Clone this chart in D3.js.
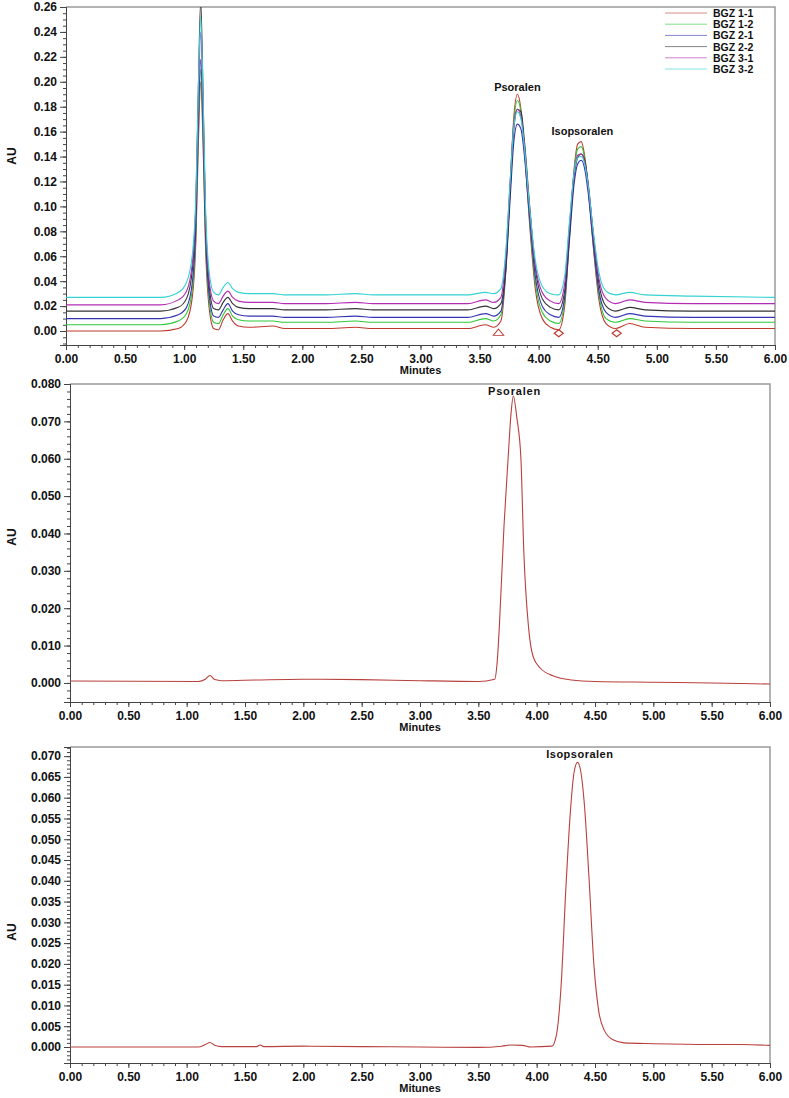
<!DOCTYPE html>
<html>
<head>
<meta charset="utf-8">
<script src="https://cdn.jsdelivr.net/npm/d3@7"></script>
<style>
body { margin: 0; background: #fff; }
text { font-family: "Liberation Sans", Arial, sans-serif; font-weight: bold; fill: #111; }
</style>
</head>
<body>
<script>
// ---- data ----
var xTicks = [0, 0.5, 1, 1.5, 2, 2.5, 3, 3.5, 4, 4.5, 5, 5.5, 6];
var yTicksTop = [0, 0.02, 0.04, 0.06, 0.08, 0.10, 0.12, 0.14, 0.16, 0.18, 0.20, 0.22, 0.24, 0.26];
var yTicksMid = [0, 0.01, 0.02, 0.03, 0.04, 0.05, 0.06, 0.07, 0.08];
var yTicksLow = [0, 0.005, 0.01, 0.015, 0.02, 0.025, 0.03, 0.035, 0.04, 0.045, 0.05, 0.055, 0.06, 0.065, 0.07];

var seriesNames = ['BGZ 1-1', 'BGZ 1-2', 'BGZ 2-1', 'BGZ 2-2', 'BGZ 3-1', 'BGZ 3-2'];
var seriesColors = ['#c0392f', '#2fc83a', '#3434b4', '#333333', '#b42cb4', '#35d2d2'];

// retention times (min) for the overlaid traces
var topTimes = [0, 0.8, 0.95, 1.02, 1.07, 1.10, 1.12, 1.14, 1.16, 1.18, 1.21, 1.25, 1.29, 1.33, 1.37, 1.41, 1.46, 1.55, 1.75, 1.85,
  2.2, 2.45, 2.6, 3.0, 3.4, 3.55, 3.62, 3.68, 3.72, 3.76, 3.79, 3.82, 3.85, 3.88, 3.92, 3.97, 4.03, 4.1, 4.17, 4.22,
  4.26, 4.30, 4.33, 4.36, 4.39, 4.42, 4.46, 4.51, 4.57, 4.65, 4.77, 4.9, 5.3, 6.0];

var bgz11 = [0, 0, 0.002, 0.008, 0.028, 0.075, 0.150, 0.200, 0.150, 0.070, 0.020, 0.002, 0.001, 0.009, 0.014, 0.008, 0.004, 0.003, 0.004, 0.002,
  0.002, 0.003, 0.002, 0.002, 0.002, 0.005, 0.003, 0.008, 0.045, 0.120, 0.172, 0.190, 0.178, 0.145, 0.090, 0.035, 0.010, 0.003, 0.001, 0.020,
  0.075, 0.130, 0.150, 0.152, 0.140, 0.115, 0.070, 0.025, 0.006, 0.002, 0.006, 0.003, 0.002, 0.002];
var bgz12 = [0.005, 0.005, 0.008, 0.014, 0.034, 0.082, 0.160, 0.210, 0.158, 0.076, 0.026, 0.007, 0.006, 0.013, 0.018, 0.012, 0.009, 0.008, 0.008, 0.007,
  0.007, 0.008, 0.007, 0.007, 0.007, 0.010, 0.008, 0.013, 0.048, 0.118, 0.168, 0.185, 0.176, 0.146, 0.094, 0.040, 0.015, 0.008, 0.006, 0.024,
  0.076, 0.128, 0.146, 0.148, 0.138, 0.114, 0.072, 0.029, 0.010, 0.007, 0.010, 0.008, 0.007, 0.007];
var bgz21 = [0.010, 0.010, 0.013, 0.019, 0.040, 0.088, 0.168, 0.218, 0.165, 0.082, 0.031, 0.012, 0.011, 0.017, 0.022, 0.016, 0.013, 0.012, 0.012, 0.011,
  0.011, 0.012, 0.011, 0.011, 0.011, 0.014, 0.012, 0.016, 0.046, 0.108, 0.152, 0.166, 0.162, 0.140, 0.095, 0.045, 0.020, 0.013, 0.011, 0.027,
  0.072, 0.118, 0.134, 0.137, 0.130, 0.110, 0.072, 0.032, 0.015, 0.011, 0.014, 0.012, 0.011, 0.011];
var bgz22 = [0.016, 0.016, 0.019, 0.026, 0.050, 0.105, 0.195, 0.265, 0.190, 0.095, 0.038, 0.018, 0.017, 0.023, 0.027, 0.022, 0.019, 0.018, 0.018, 0.017,
  0.017, 0.018, 0.017, 0.017, 0.017, 0.020, 0.018, 0.022, 0.050, 0.115, 0.162, 0.178, 0.176, 0.152, 0.105, 0.052, 0.026, 0.019, 0.017, 0.032,
  0.078, 0.124, 0.139, 0.142, 0.137, 0.118, 0.080, 0.038, 0.020, 0.016, 0.019, 0.017, 0.016, 0.016];
var bgz31 = [0.021, 0.021, 0.025, 0.032, 0.055, 0.105, 0.185, 0.240, 0.180, 0.095, 0.042, 0.024, 0.022, 0.028, 0.032, 0.027, 0.024, 0.023, 0.023, 0.022,
  0.022, 0.023, 0.022, 0.022, 0.022, 0.025, 0.023, 0.027, 0.058, 0.122, 0.166, 0.178, 0.172, 0.148, 0.102, 0.054, 0.031, 0.024, 0.022, 0.038,
  0.084, 0.127, 0.141, 0.142, 0.135, 0.116, 0.080, 0.042, 0.026, 0.022, 0.025, 0.023, 0.022, 0.022];
var bgz32 = [0.027, 0.027, 0.031, 0.039, 0.062, 0.112, 0.195, 0.252, 0.190, 0.102, 0.049, 0.031, 0.029, 0.035, 0.039, 0.034, 0.031, 0.030, 0.030, 0.029,
  0.029, 0.030, 0.029, 0.029, 0.029, 0.031, 0.030, 0.034, 0.062, 0.122, 0.164, 0.176, 0.170, 0.147, 0.103, 0.058, 0.036, 0.030, 0.029, 0.044,
  0.087, 0.127, 0.139, 0.140, 0.134, 0.116, 0.082, 0.047, 0.032, 0.029, 0.031, 0.029, 0.028, 0.027];

// integration markers under the BGZ 1-1 trace
var markerTimes = [3.66, 4.17, 4.66];
var markerShapes = ['triangle', 'diamond', 'diamond'];

// psoralen standard
var psoTimes = [0, 1.1, 1.16, 1.2, 1.24, 1.3, 1.6, 2.0, 2.5, 3.0, 3.5, 3.64, 3.66, 3.68, 3.72, 3.755, 3.78, 3.80, 3.83, 3.865,
  3.89, 3.93, 3.97, 4.03, 4.15, 4.3, 4.5, 5.0, 5.5, 6.0];
var psoValues = [0.0005, 0.0004, 0.0010, 0.0020, 0.0009, 0.0006, 0.0008, 0.0010, 0.0009, 0.0006, 0.0004, 0.0010, 0.0050, 0.0150, 0.0420, 0.0600, 0.0720, 0.0768, 0.0710, 0.0600,
  0.0350, 0.0150, 0.0070, 0.0040, 0.0018, 0.0008, 0.0004, 0.0002, 0.0000, -0.0003];

// isopsoralen standard
var isoTimes = [0, 1.1, 1.16, 1.2, 1.24, 1.3, 1.6, 1.63, 1.66, 2.0, 2.5, 3.0, 3.5, 3.7, 3.78, 3.88, 3.95, 4.13, 4.17, 4.21,
  4.25, 4.29, 4.32, 4.35, 4.38, 4.41, 4.45, 4.49, 4.53, 4.58, 4.65, 4.75, 5.0, 5.5, 5.75, 6.0];
var isoValues = [0.0000, 0.0000, 0.0006, 0.0011, 0.0004, 0.0001, 0.0001, 0.0005, 0.0001, 0.0002, 0.0001, 0.0000, -0.0001, 0.0002, 0.0005, 0.0004, 0.0000, 0.0002, 0.0030, 0.0150,
  0.0380, 0.0570, 0.0660, 0.0685, 0.0660, 0.0580, 0.0400, 0.0200, 0.0090, 0.0040, 0.0018, 0.0010, 0.0008, 0.0006, 0.0006, 0.0004];

var topSeries = [bgz11, bgz12, bgz21, bgz22, bgz31, bgz32];

// ---- drawing ----
var W = 789, H = 1098;
var svg = d3.select('body').append('svg')
    .attr('width', W)
    .attr('height', H);

var traceColor = '#b8403d';

function panel(o) {
    var x = d3.scaleLinear().domain([0, 6]).range([o.left, o.right]);
    var y = d3.scaleLinear().domain(o.yDomain).range([o.bottom, o.top]);
    var g = svg.append('g');

    svg.append('clipPath').attr('id', 'clip' + o.id)
        .append('rect')
        .attr('x', o.left).attr('y', o.top)
        .attr('width', o.right - o.left).attr('height', o.bottom - o.top);

    // grey frame on top and right
    g.append('path')
        .attr('d', 'M' + o.left + ',' + o.top + 'H' + o.right + 'V' + o.bottom)
        .attr('fill', 'none').attr('stroke', '#9a9a9a').attr('stroke-width', 1.5);

    var xMinor = d3.range(0, 60.5, 1).map(function(d) { return d / 10; });
    var yMinor = d3.range(Math.ceil(o.yDomain[0] / o.minor), Math.floor(o.yDomain[1] / o.minor) + 1)
        .map(function(d) { return d * o.minor; });

    g.append('g').attr('class', 'ax')
        .attr('transform', 'translate(0,' + o.bottom + ')')
        .call(d3.axisBottom(x).tickValues(xMinor).tickSize(3).tickFormat(''));
    g.append('g').attr('class', 'ax')
        .attr('transform', 'translate(0,' + o.bottom + ')')
        .call(d3.axisBottom(x).tickValues(xTicks).tickSize(5).tickPadding(4).tickFormat(d3.format('.2f')));

    g.append('g').attr('class', 'ax')
        .attr('transform', 'translate(' + o.left + ',0)')
        .call(d3.axisLeft(y).tickValues(yMinor).tickSize(3).tickFormat(''));
    g.append('g').attr('class', 'ax')
        .attr('transform', 'translate(' + o.left + ',0)')
        .call(d3.axisLeft(y).tickValues(o.yTicks).tickSize(6).tickPadding(3).tickFormat(d3.format(o.fmt)));

    g.selectAll('.ax path, .ax line').attr('stroke', '#444');
    g.selectAll('.ax text').attr('font-size', 12).attr('fill', '#111')
        .style('font-family', '"Liberation Sans", Arial, sans-serif').style('font-weight', 'bold');

    g.append('text')
        .attr('x', (o.left + o.right) / 2).attr('y', o.bottom + 29)
        .attr('text-anchor', 'middle').attr('font-size', 11)
        .text(o.xTitle);
    g.append('text')
        .attr('transform', 'translate(16,' + o.auY + ') rotate(-90)')
        .attr('text-anchor', 'middle').attr('font-size', 12)
        .text('AU');

    return { x: x, y: y, g: g.append('g').attr('clip-path', 'url(#clip' + o.id + ')') };
}

// top: overlaid samples
var p1 = panel({ id: 1, left: 66, right: 775, top: 7, bottom: 345, yDomain: [-0.0112, 0.26],
    yTicks: yTicksTop, minor: 0.005, fmt: '.2f', xTitle: 'Minutes', auY: 156 });

var line1 = d3.line()
    .x(function(d, i) { return p1.x(topTimes[i]); })
    .y(function(d) { return p1.y(d); })
    .curve(d3.curveMonotoneX);

p1.g.selectAll('path.trace')
    .data(topSeries)
    .enter().append('path')
    .attr('class', 'trace')
    .attr('d', line1)
    .attr('fill', 'none')
    .attr('stroke', function(d, i) { return seriesColors[i]; })
    .attr('stroke-width', 1.1);

p1.g.selectAll('path.mark')
    .data(markerTimes)
    .enter().append('path')
    .attr('class', 'mark')
    .attr('d', function(d, i) {
        return markerShapes[i] === 'triangle'
            ? d3.symbol().type(d3.symbolTriangle).size(28)()
            : d3.symbol().type(d3.symbolDiamond).size(22)();
    })
    .attr('transform', function(d, i) {
        var s = markerShapes[i] === 'triangle' ? 'scale(1.3,0.9)' : 'scale(1.8,0.8)';
        return 'translate(' + p1.x(d) + ',' + p1.y(-0.0018) + ') ' + s;
    })
    .attr('fill', 'none')
    .attr('stroke', '#c0392f')
    .attr('stroke-width', 0.9);

var legend = svg.append('g').selectAll('g')
    .data(seriesNames)
    .enter().append('g')
    .attr('transform', function(d, i) { return 'translate(665,' + (13 + i * 11.2) + ')'; });
legend.append('line')
    .attr('x1', 0).attr('x2', 42).attr('y1', 0).attr('y2', 0)
    .attr('stroke', function(d, i) { return seriesColors[i]; })
    .attr('stroke-opacity', 0.6);
legend.append('text')
    .attr('x', 48).attr('y', 4)
    .attr('font-size', 10.5)
    .text(function(d) { return d; });

p1.g.append('text').attr('x', p1.x(3.82)).attr('y', p1.y(0.1925))
    .attr('text-anchor', 'middle').attr('font-size', 11).text('Psoralen');
p1.g.append('text').attr('x', p1.x(4.37)).attr('y', p1.y(0.157))
    .attr('text-anchor', 'middle').attr('font-size', 11).text('Isopsoralen');

// middle: psoralen standard
var p2 = panel({ id: 2, left: 70, right: 770, top: 384, bottom: 702, yDomain: [-0.0051, 0.080],
    yTicks: yTicksMid, minor: 0.002, fmt: '.3f', xTitle: 'Minutes', auY: 537 });

p2.g.append('path')
    .datum(psoValues)
    .attr('d', d3.line()
        .x(function(d, i) { return p2.x(psoTimes[i]); })
        .y(function(d) { return p2.y(d); })
        .curve(d3.curveMonotoneX))
    .attr('fill', 'none').attr('stroke', traceColor).attr('stroke-width', 1.1);
p2.g.append('text').attr('x', p2.x(3.81)).attr('y', p2.y(0.077))
    .attr('text-anchor', 'middle').attr('font-size', 11).attr('letter-spacing', 0.8).text('Psoralen');

// bottom: isopsoralen standard
var p3 = panel({ id: 3, left: 70, right: 770, top: 747, bottom: 1063, yDomain: [-0.00385, 0.0722],
    yTicks: yTicksLow, minor: 0.001, fmt: '.3f', xTitle: 'Mitunes', auY: 932 });

p3.g.append('path')
    .datum(isoValues)
    .attr('d', d3.line()
        .x(function(d, i) { return p3.x(isoTimes[i]); })
        .y(function(d) { return p3.y(d); })
        .curve(d3.curveMonotoneX))
    .attr('fill', 'none').attr('stroke', traceColor).attr('stroke-width', 1.1);
p3.g.append('text').attr('x', p3.x(4.37)).attr('y', p3.y(0.0695))
    .attr('text-anchor', 'middle').attr('font-size', 11).attr('letter-spacing', 0.5).text('Isopsoralen');
</script>
</body>
</html>
